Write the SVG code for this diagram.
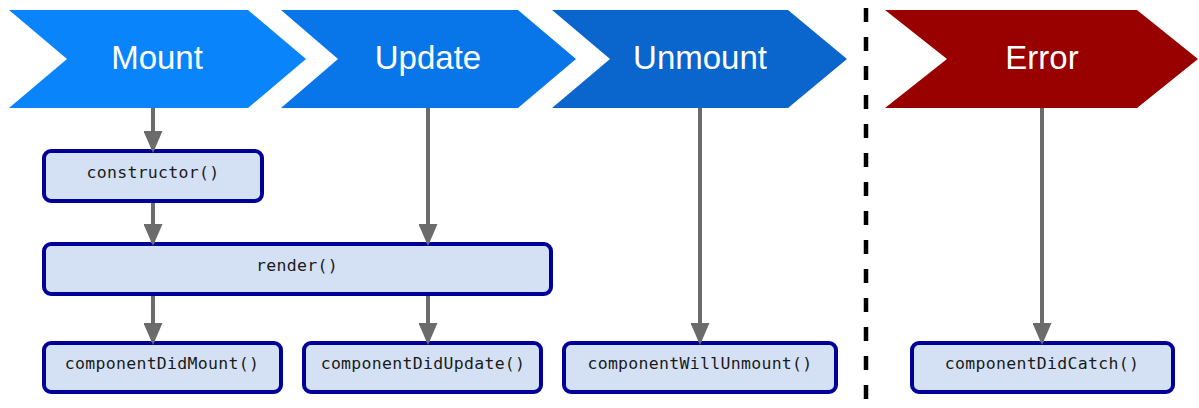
<svg xmlns="http://www.w3.org/2000/svg" width="1199" height="408" viewBox="0 0 1199 408">
  <style>
    .phase { font-family: "Liberation Sans", Arial, sans-serif; font-size: 33px; fill: #ffffff; text-anchor: middle; }
    .box { fill: #d4e1f4; stroke: #000099; stroke-width: 4; }
    .fn { font-family: "DejaVu Sans Mono", "Liberation Mono", monospace; font-size: 16.5px; fill: #1a1a1a; text-anchor: middle; letter-spacing: 0.3px; }
    .wire { stroke: #6b6b6b; stroke-width: 4; fill: none; marker-end: url(#head); }
  </style>
  <defs>
    <marker id="head" viewBox="0 0 22 19" refX="19" refY="9.5" markerWidth="22" markerHeight="19" markerUnits="userSpaceOnUse" orient="auto">
      <path d="M0,0 L22,9.5 L0,19 Z" fill="#6b6b6b"/>
    </marker>
  </defs>

  <rect width="1199" height="408" fill="#ffffff"/>

  <!-- phase chevrons -->
  <g id="mount">
    <polygon points="9,10 248,10 306,59 248,108 9,108 67,59" fill="#0a84fb"/>
    <text class="phase" x="157" y="69">Mount</text>
  </g>
  <g id="update">
    <polygon points="281,10 518,10 576,59 518,108 281,108 338,59" fill="#0875e8"/>
    <text class="phase" x="428" y="69">Update</text>
  </g>
  <g id="unmount">
    <polygon points="552,10 788,10 847,59 788,108 552,108 610,59" fill="#0a66cc"/>
    <text class="phase" x="700" y="69">Unmount</text>
  </g>
  <g id="error">
    <polygon points="885,10 1137,10 1198,59 1137,108 885,108 947,59" fill="#990000"/>
    <text class="phase" x="1042" y="69">Error</text>
  </g>

  <!-- separator between lifecycle and error handling -->
  <line x1="866" y1="8" x2="866" y2="408" stroke="#000000" stroke-width="4.5" stroke-dasharray="14 15"/>

  <!-- method boxes -->
  <g id="constructor">
    <rect class="box" x="44" y="151" width="218" height="50" rx="7"/>
    <text class="fn" x="153" y="178">constructor()</text>
  </g>
  <g id="render">
    <rect class="box" x="44" y="244" width="507" height="50" rx="7"/>
    <text class="fn" x="297" y="271">render()</text>
  </g>
  <g id="componentDidMount">
    <rect class="box" x="44" y="343" width="237" height="49" rx="7"/>
    <text class="fn" x="162" y="369">componentDidMount()</text>
  </g>
  <g id="componentDidUpdate">
    <rect class="box" x="304" y="343" width="237" height="49" rx="7"/>
    <text class="fn" x="423" y="369">componentDidUpdate()</text>
  </g>
  <g id="componentWillUnmount">
    <rect class="box" x="564" y="343" width="272" height="49" rx="7"/>
    <text class="fn" x="700" y="369">componentWillUnmount()</text>
  </g>
  <g id="componentDidCatch">
    <rect class="box" x="912" y="343" width="261" height="49" rx="7"/>
    <text class="fn" x="1042" y="369">componentDidCatch()</text>
  </g>

  <!-- connectors -->
  <g id="connectors">
    <line class="wire" x1="153" y1="108" x2="153" y2="150"/>
    <line class="wire" x1="153" y1="203" x2="153" y2="243"/>
    <line class="wire" x1="428" y1="108" x2="428" y2="243"/>
    <line class="wire" x1="153" y1="296" x2="153" y2="342"/>
    <line class="wire" x1="428" y1="296" x2="428" y2="342"/>
    <line class="wire" x1="700" y1="108" x2="700" y2="342"/>
    <line class="wire" x1="1042" y1="108" x2="1042" y2="342"/>
  </g>
</svg>
